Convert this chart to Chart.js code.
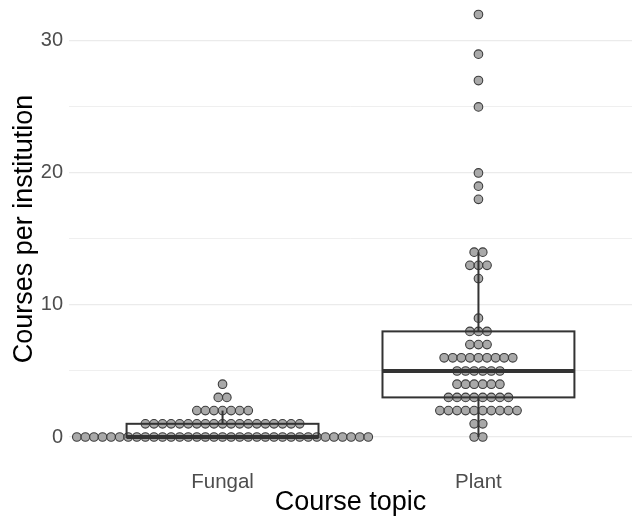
<!DOCTYPE html>
<html>
<head>
<meta charset="utf-8">
<script src="https://cdn.jsdelivr.net/npm/chart.js@4"></script>
<style>
  html, body { margin: 0; padding: 0; background: #ffffff; }
  #wrap { width: 632px; height: 519px; }
</style>
</head>
<body>
<div id="wrap"><canvas id="chart" width="632" height="519"></canvas></div>
<script>
// DATA
// ====
const categories = ['Fungal', 'Plant'];

// distinct values and how many institutions had each
const fungalValues = [0, 1, 2, 3, 4];
const fungalCounts = [35, 19, 7, 2, 1];

const plantValues = [0, 1, 2, 3, 4, 5, 6, 7, 8, 9, 12, 13, 14, 18, 19, 20, 25, 27, 29, 32];
const plantCounts = [2, 2, 10, 8, 6, 6, 9, 3, 3, 1, 1, 3, 2, 1, 1, 1, 1, 1, 1, 1];

const yTicks = [0, 10, 20, 30];
const yMinorTicks = [5, 15, 25];

// STYLE
// =====
const DOT_STEP = 0.0335;   // horizontal spacing of dots, in x units
const BOX_HALF = 0.375;    // half box width, in x units
const TICK_COLOR = '#4d4d4d';
const GRID_COLOR = '#ebebeb';
const LINE_COLOR = '#333333';
const FONT = 'Liberation Sans, Arial, sans-serif';

// HELPERS
// =======
function expand(values, counts) {
    const out = [];
    values.forEach((v, i) => {
        for (let k = 0; k < counts[i]; k++) out.push(v);
    });
    return out;
}

// dots stacked side by side, centred on the category
function swarm(values, counts, center) {
    const pts = [];
    values.forEach((v, i) => {
        const n = counts[i];
        for (let k = 0; k < n; k++) {
            pts.push({ x: center + (k - (n - 1) / 2) * DOT_STEP, y: v });
        }
    });
    return pts;
}

function quantile(sorted, p) {
    const pos = (sorted.length - 1) * p;
    const lo = Math.floor(pos);
    const hi = Math.ceil(pos);
    return sorted[lo] + (sorted[hi] - sorted[lo]) * (pos - lo);
}

function boxStats(obs) {
    const s = [...obs].sort((a, b) => a - b);
    const q1 = quantile(s, 0.25);
    const med = quantile(s, 0.5);
    const q3 = quantile(s, 0.75);
    const iqr = q3 - q1;
    const lo = Math.min(...s.filter((v) => v >= q1 - 1.5 * iqr));
    const hi = Math.max(...s.filter((v) => v <= q3 + 1.5 * iqr));
    return { q1, med, q3, lo, hi };
}

const groups = [
    { center: 1, values: fungalValues, counts: fungalCounts },
    { center: 2, values: plantValues, counts: plantCounts },
];

function noPadding(scale) {
    scale.paddingTop = 0;
    scale.paddingBottom = 0;
    scale.paddingLeft = 0;
    scale.paddingRight = 0;
}

// BOX PLOT PLUGIN
// ===============
// Draws the (unfilled) boxes and whiskers on top of the dots.
const boxPlugin = {
    id: 'boxes',
    afterDatasetsDraw(chart) {
        const { ctx, scales: { x, y } } = chart;
        ctx.save();
        ctx.strokeStyle = LINE_COLOR;
        groups.forEach((g) => {
            const st = boxStats(expand(g.values, g.counts));
            const xl = x.getPixelForValue(g.center - BOX_HALF);
            const xr = x.getPixelForValue(g.center + BOX_HALF);
            const xc = x.getPixelForValue(g.center);

            // whiskers
            ctx.lineWidth = 2;
            ctx.beginPath();
            ctx.moveTo(xc, y.getPixelForValue(st.q3));
            ctx.lineTo(xc, y.getPixelForValue(st.hi));
            ctx.moveTo(xc, y.getPixelForValue(st.q1));
            ctx.lineTo(xc, y.getPixelForValue(st.lo));
            ctx.stroke();

            // box
            const yt = y.getPixelForValue(st.q3);
            const yb = y.getPixelForValue(st.q1);
            ctx.strokeRect(xl, yt, xr - xl, yb - yt);

            // median
            ctx.lineWidth = 4.2;
            ctx.beginPath();
            ctx.moveTo(xl, y.getPixelForValue(st.med));
            ctx.lineTo(xr, y.getPixelForValue(st.med));
            ctx.stroke();
        });
        ctx.restore();
    },
};

// CHART
// =====
const ctx = document.getElementById('chart').getContext('2d');

new Chart(ctx, {
    type: 'scatter',
    data: {
        datasets: groups.map((g, i) => ({
            label: categories[i],
            data: swarm(g.values, g.counts, g.center),
            pointRadius: 4.3,
            pointHoverRadius: 4.3,
            pointBackgroundColor: '#a9a9a9',
            pointBorderColor: '#3c3c3c',
            pointBorderWidth: 1.1,
        })),
    },
    options: {
        responsive: false,
        animation: false,
        layout: { padding: 0, autoPadding: false },
        plugins: {
            legend: { display: false },
            tooltip: { enabled: false },
        },
        scales: {
            x: {
                type: 'linear',
                min: 0.4,
                max: 2.6,
                afterBuildTicks: (scale) => {
                    scale.ticks = categories.map((_, i) => ({ value: i + 1 }));
                },
                afterFit: (scale) => {
                    scale.height = 61;
                    noPadding(scale);
                },
                grid: { display: false, drawTicks: false },
                border: { display: false },
                ticks: {
                    padding: 12,
                    color: TICK_COLOR,
                    font: { family: FONT, size: 20.5 },
                    callback: (v) => categories[v - 1] || '',
                },
                title: {
                    display: true,
                    text: 'Course topic',
                    color: '#000000',
                    padding: { top: 0, bottom: 0 },
                    font: { family: FONT, size: 27, lineHeight: 1.2 },
                },
            },
            y: {
                min: -1.59,
                max: 33.1,
                afterBuildTicks: (scale) => {
                    scale.ticks = [...yTicks, ...yMinorTicks]
                        .sort((a, b) => a - b)
                        .map((v) => ({ value: v }));
                },
                afterFit: (scale) => {
                    scale.width = 69;
                    noPadding(scale);
                },
                grid: {
                    drawTicks: false,
                    color: GRID_COLOR,
                    lineWidth: (c) => (yTicks.includes(c.tick && c.tick.value) ? 1.3 : 0.8),
                },
                border: { display: false },
                ticks: {
                    padding: 6,
                    color: TICK_COLOR,
                    font: { family: FONT, size: 20 },
                    callback: (v) => (yTicks.includes(v) ? String(v) : ''),
                },
                title: {
                    display: true,
                    text: 'Courses per institution',
                    color: '#000000',
                    padding: { top: 8, bottom: 0 },
                    font: { family: FONT, size: 27, lineHeight: 1.2 },
                },
            },
        },
    },
    plugins: [boxPlugin],
});
</script>
</body>
</html>
